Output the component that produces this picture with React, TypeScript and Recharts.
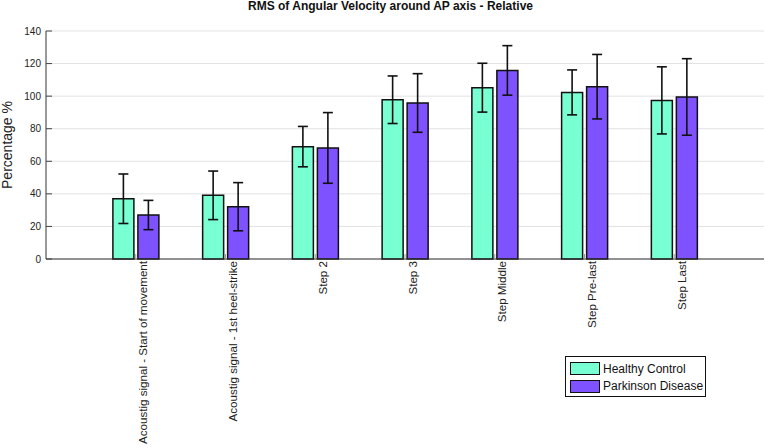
import React from 'react';
import { BarChart, Bar, XAxis, YAxis, CartesianGrid, ErrorBar, Legend } from 'recharts';

const categories = [
  'Acoustig signal - Start of movement',
  'Acoustig signal - 1st heel-strike',
  'Step 2',
  'Step 3',
  'Step Middle',
  'Step Pre-last',
  'Step Last',
];
const healthy = [37.0, 39.1, 69.0, 97.8, 105.2, 102.3, 97.4];
const healthyErr = [15.2, 14.9, 12.4, 14.6, 15.0, 13.8, 20.6];
const parkinson = [27.0, 32.1, 68.2, 95.8, 115.8, 105.8, 99.5];
const parkinsonErr = [9.0, 14.8, 21.7, 18.0, 15.2, 19.8, 23.5];
const yTicks = [0, 20, 40, 60, 80, 100, 120, 140];

const seriesNames = ['Healthy Control', 'Parkinson Disease'];
const GREEN = '#78FFD2';
const PURPLE = '#7F52FF';
const FONT = '"Liberation Sans", Arial, sans-serif';

const data = categories.map((c, i) => ({
  name: c,
  hc: healthy[i],
  hcErr: healthyErr[i],
  pd: parkinson[i],
  pdErr: parkinsonErr[i],
}));

const XTick = (props: any) => {
  const { x, y, payload } = props;
  const bx = x + 11.5;
  const by = y + 2;
  return (
    <g>
      <line x1={x} y1={y} x2={x} y2={y - 5} stroke="#999" strokeWidth={1} />
      <text
        x={bx}
        y={by}
        transform={`rotate(-90, ${bx}, ${by})`}
        textAnchor="end"
        fontSize={11.6}
        fontFamily={FONT}
        fill="#222"
      >
        {payload.value}
      </text>
    </g>
  );
};

const YTick = (props: any) => {
  const { x, y, payload } = props;
  return (
    <g>
      <line x1={46} y1={y} x2={52} y2={y} stroke="#444" strokeWidth={1} />
      <text x={x} y={y + 3.5} textAnchor="end" fontSize={10} fontFamily={FONT} fill="#222">
        {payload.value}
      </text>
    </g>
  );
};

const renderLegend = () => {
  const colors = [GREEN, PURPLE];
  return (
    <div
      style={{
        border: '1.5px solid #111',
        background: '#fff',
        padding: '3px 2px 2px 4px',
        width: 141,
        height: 41,
        fontFamily: FONT,
        fontSize: 12,
        color: '#111',
        boxSizing: 'border-box',
        whiteSpace: 'nowrap',
      }}
    >
      {seriesNames.map((n, i) => (
        <div key={n} style={{ display: 'flex', alignItems: 'center', height: 17.5 }}>
          <div
            style={{
              width: 30,
              height: 13,
              background: colors[i],
              border: '1.5px solid #111',
              marginRight: 3,
              boxSizing: 'border-box',
              flex: 'none',
            }}
          />
          <span>{n}</span>
        </div>
      ))}
    </div>
  );
};

export default function App() {
  return (
    <div style={{ position: 'absolute', left: 0, top: 0, width: 765, height: 448, background: '#fff' }}>
      <div
        style={{
          position: 'absolute',
          left: 0,
          width: 781,
          top: 0,
          textAlign: 'center',
          fontFamily: FONT,
          fontWeight: 'bold',
          fontSize: 12,
          lineHeight: '13px',
          color: '#111',
        }}
      >
        RMS of Angular Velocity around AP axis - Relative
      </div>
      <svg style={{ position: 'absolute', left: 0, top: 0 }} width={30} height={448}>
        <text
          x={11.5}
          y={145}
          transform="rotate(-90, 11.5, 145)"
          textAnchor="middle"
          fontSize={14}
          fontFamily={FONT}
          fill="#222"
        >
          Percentage %
        </text>
      </svg>
      <BarChart
        width={765}
        height={448}
        data={data}
        margin={{ top: 31, right: 1, left: 0, bottom: 0 }}
        barSize={21}
        barGap={4}
        style={{ position: 'absolute', left: 0, top: 0 }}
      >
        <CartesianGrid vertical={false} stroke="#e2e2e2" strokeWidth={1} />
        <XAxis
          dataKey="name"
          interval={0}
          height={189}
          tickSize={0}
          tickMargin={0}
          tickLine={false}
          tick={<XTick />}
          axisLine={{ stroke: '#333', strokeWidth: 1 }}
          padding={{ left: 44.9, right: 44.9 }}
        />
        <YAxis
          width={46}
          domain={[0, 140]}
          ticks={yTicks}
          tickSize={3}
          tickMargin={2}
          tickLine={false}
          tick={<YTick />}
          axisLine={{ stroke: '#333', strokeWidth: 1 }}
          interval={0}
        />
        <Legend
          layout="vertical"
          align="center"
          verticalAlign="middle"
          content={renderLegend}
          wrapperStyle={{ left: 565, top: 356, width: 141 }}
        />
        <Bar dataKey="hc" name={seriesNames[0]} fill={GREEN} stroke="#111" strokeWidth={1.5} isAnimationActive={false}>
          <ErrorBar dataKey="hcErr" width={5} stroke="#111" strokeWidth={1.6} direction="y" />
        </Bar>
        <Bar dataKey="pd" name={seriesNames[1]} fill={PURPLE} stroke="#111" strokeWidth={1.5} isAnimationActive={false}>
          <ErrorBar dataKey="pdErr" width={5} stroke="#111" strokeWidth={1.6} direction="y" />
        </Bar>
      </BarChart>
    </div>
  );
}
